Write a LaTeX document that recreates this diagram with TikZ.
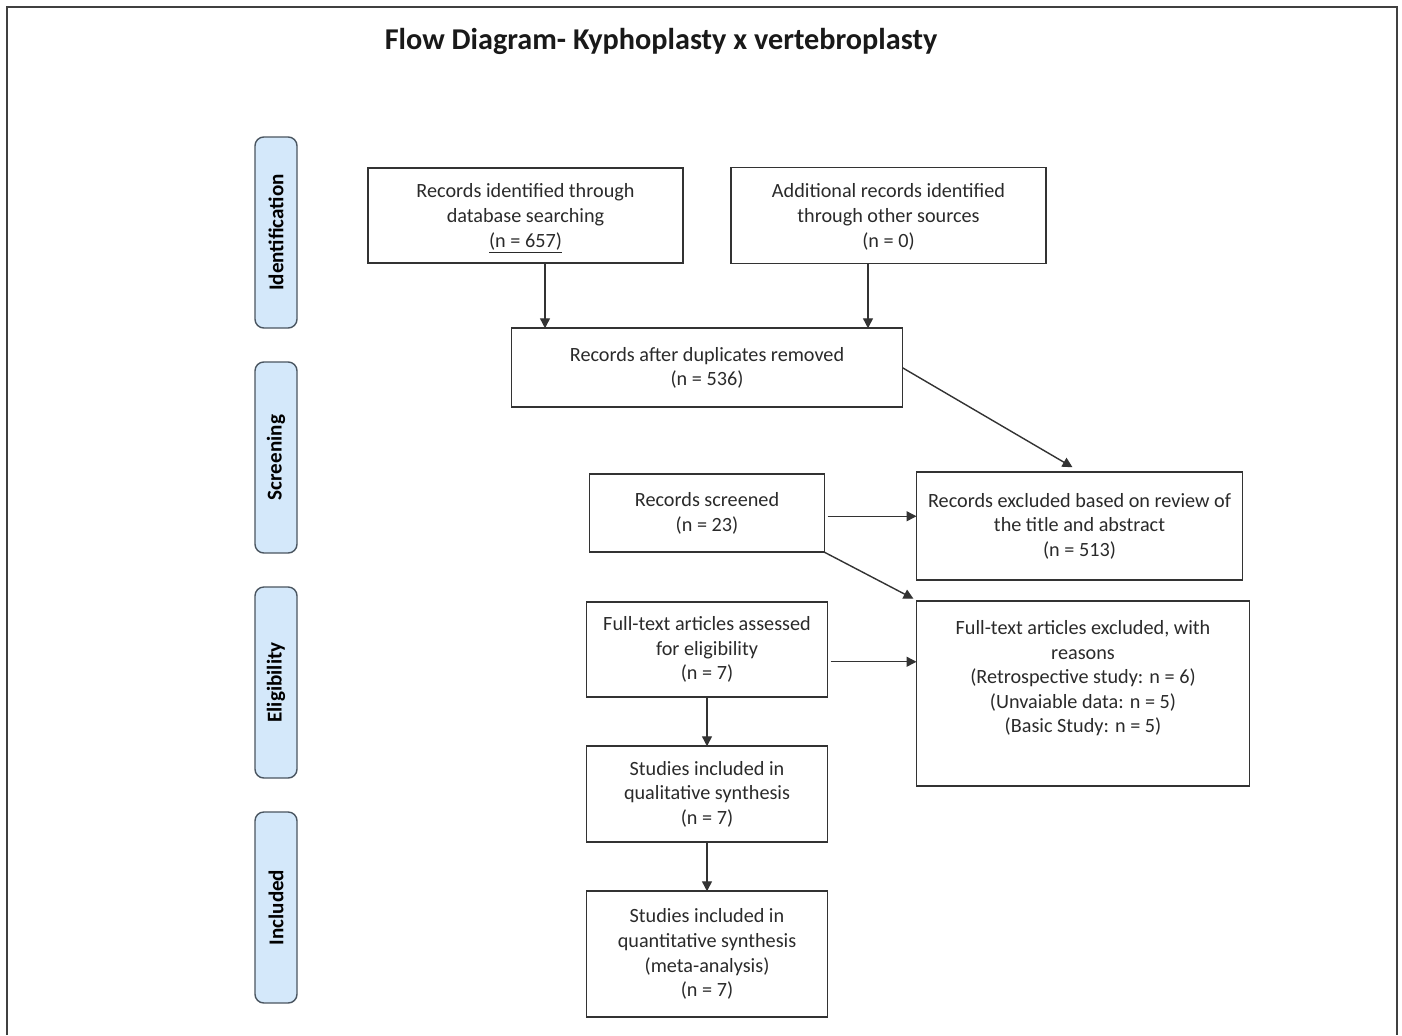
\documentclass[tikz,border=0pt]{standalone}
\usepackage{fontspec}
\setmainfont{Carlito}
\usepackage{xcolor}
\usetikzlibrary{arrows.meta, positioning, calc}
\definecolor{stagefill}{HTML}{D4E8FA}
\definecolor{stagedraw}{HTML}{4A5560}
\definecolor{boxdraw}{HTML}{333333}
\definecolor{boxtext}{HTML}{2A2A2A}
\tikzset{
    stage/.style={
        rectangle, draw=stagedraw, fill=stagefill,
        minimum width=0.84cm, minimum height=3.82cm, outer sep=0pt,
        rounded corners=5pt, line width=0.8pt,
        font=\fontsize{12}{14}\selectfont\bfseries, text=black,
    },
    prisma/.style={
        rectangle, draw=boxdraw, line width=0.9pt, outer sep=0pt,
        text centered, align=center, text=boxtext,
        inner sep=2pt, font=\fontsize{11.5}{14}\selectfont,
    },
    flow/.style={-{Triangle[length=2mm, width=2mm]}, line width=0.8pt, draw=boxdraw},
}
\newcommand{\stagetext}[1]{\rotatebox{90}{#1}}
\begin{document}
\begin{tikzpicture}[node distance=1.0cm and 1.4cm]

    \useasboundingbox (0,0) rectangle (28.04,-20.7);
    \draw[line width=1.2pt, draw=black!75] (0.14,-20.7) |- (27.94,-0.14) -- (27.94,-20.7);

    \node[font=\fontsize{17.2}{20}\selectfont\bfseries, text=black!90] (title) at (13.22,-0.82)
        {Flow Diagram- Kyphoplasty x vertebroplasty};

    % stage labels
    \node[stage] (ident) at (5.52,-4.65) {\stagetext{Identification}};
    \node[stage, below=0.68cm of ident] (screen) {\stagetext{Screening}};
    \node[stage, below=0.68cm of screen] (elig) {\stagetext{Eligibility}};
    \node[stage, below=0.68cm of elig] (incl) {\stagetext{Included}};

    % boxes
    \node[prisma, minimum width=6.3cm, minimum height=1.9cm, text depth=0pt] (recdb) at (10.51,-4.31)
        {Records identified through\\database searching\\\underline{(n = 657)}};
    \node[prisma, minimum width=6.3cm, minimum height=1.92cm, text depth=0pt, right=0.96cm of recdb] (recother)
        {Additional records identified\\through other sources\\(n = 0)};

    \node[prisma, minimum width=7.82cm, minimum height=1.58cm, below=1.3cm of $(recdb.south)!0.5!(recother.south)$] (dup)
        {Records after duplicates removed\\(n = 536)};

    \node[prisma, minimum width=4.7cm, minimum height=1.56cm, below=1.34cm of dup] (screened)
        {Records screened\\(n = 23)};
    \node[prisma, minimum width=6.52cm, minimum height=2.16cm, anchor=north west] (excl)
        at ([xshift=1.84cm, yshift=0.04cm]screened.north east)
        {Records excluded based on review of\\the title and abstract\\(n = 513)};

    \node[prisma, minimum width=4.82cm, minimum height=1.9cm, below=1.0cm of screened] (fulltext)
        {Full-text articles assessed\\for eligibility\\(n = 7)};
    \node[prisma, minimum width=6.66cm, minimum height=3.7cm, anchor=north west, text depth=0.68cm] (ftexcl)
        at ([xshift=1.78cm, yshift=0.02cm]fulltext.north east)
        {Full-text articles excluded, with\\reasons\\(Retrospective study: n = 6)\\(Unvaiable data: n = 5)\\(Basic Study: n = 5)};

    \node[prisma, minimum width=4.82cm, minimum height=1.92cm, below=0.98cm of fulltext] (qual)
        {Studies included in\\qualitative synthesis\\(n = 7)};
    \node[prisma, minimum width=4.82cm, minimum height=2.52cm, below=0.98cm of qual] (quant)
        {Studies included in\\quantitative synthesis\\(meta-analysis)\\(n = 7)};

    % arrows
    \draw[flow] ([xshift=0.39cm]recdb.south) -- ([xshift=0.39cm]recdb.south |- dup.north);
    \draw[flow] ([xshift=-0.41cm]recother.south) -- ([xshift=-0.41cm]recother.south |- dup.north);
    \draw[flow] (dup.east) -- ([xshift=-0.14cm, yshift=0.1cm]excl.north);
    \draw[flow] ([xshift=0.06cm, yshift=-0.06cm]screened.east) -- ([yshift=-0.06cm]screened.east -| excl.west);
    \draw[flow] (screened.south east) -- ([xshift=-0.06cm, yshift=0.05cm]ftexcl.north west);
    \draw[flow] ([xshift=0.06cm, yshift=-0.24cm]fulltext.east) -- ([yshift=-0.24cm]fulltext.east -| ftexcl.west);
    \draw[flow] (fulltext) -- (qual);
    \draw[flow] (qual) -- (quant);

\end{tikzpicture}
\end{document}
